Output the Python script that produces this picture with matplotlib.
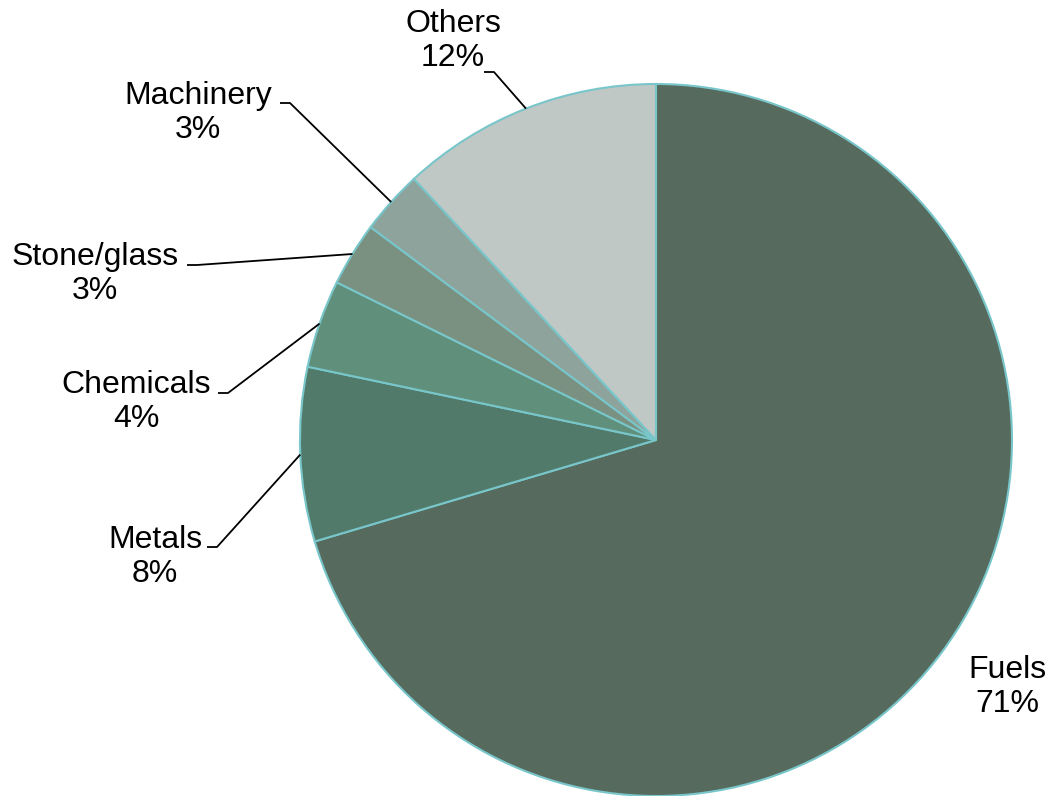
import numpy as np
import matplotlib.pyplot as plt

# data
categories = ['Fuels', 'Metals', 'Chemicals', 'Stone/glass', 'Machinery', 'Others']
shares = [70.4, 7.9, 4.0, 2.9, 2.9, 11.9]
colors = ['#566b5e', '#527a6a', '#60907b', '#7a9080', '#8ea39b', '#c0c8c5']
pct_labels = ['71%', '8%', '4%', '3%', '3%', '12%']

# label layout (pixel coords, y down): text centre, leader anchor
label_pos = {
    'Fuels': (1007, 687),
    'Metals': (155, 557),
    'Chemicals': (136, 402),
    'Stone/glass': (95, 274),
    'Machinery': (198, 113),
    'Others': (453, 41),
}
leader_start = {
    'Metals': (207, 547),
    'Chemicals': (218, 393),
    'Stone/glass': (187, 265),
    'Machinery': (280, 103),
    'Others': (484, 72),
}

plt.rcParams['font.family'] = ['Liberation Sans', 'DejaVu Sans']

fig = plt.figure(figsize=(10.52, 7.96), dpi=100)
ax = fig.add_axes([0, 0, 1, 1])

cx, cy, r = 656, -440, 356
wedges, _ = ax.pie(shares, colors=colors, startangle=90, counterclock=False,
                   center=(cx, cy), radius=r, frame=True,
                   wedgeprops=dict(edgecolor='#78c6ca', linewidth=1.5))
ax.set_xlim(0, 1052)
ax.set_ylim(-796, 0)
ax.set_aspect('equal')
ax.axis('off')

for w, name, pct in zip(wedges, categories, pct_labels):
    tx, ty = label_pos[name]
    ax.text(tx, -ty, f'{name}\n{pct}', ha='center', va='center',
            fontsize=23, linespacing=1.15, color='black')
    if name in leader_start:
        mid = np.deg2rad((w.theta1 + w.theta2) / 2)
        ex, ey = cx + r * np.cos(mid), cy + r * np.sin(mid)
        sx, sy = leader_start[name]
        ax.plot([sx, sx + 10, ex], [-sy, -sy, ey], color='black', lw=1.3,
                solid_capstyle='butt')

fig.savefig('out.png', dpi=100)
